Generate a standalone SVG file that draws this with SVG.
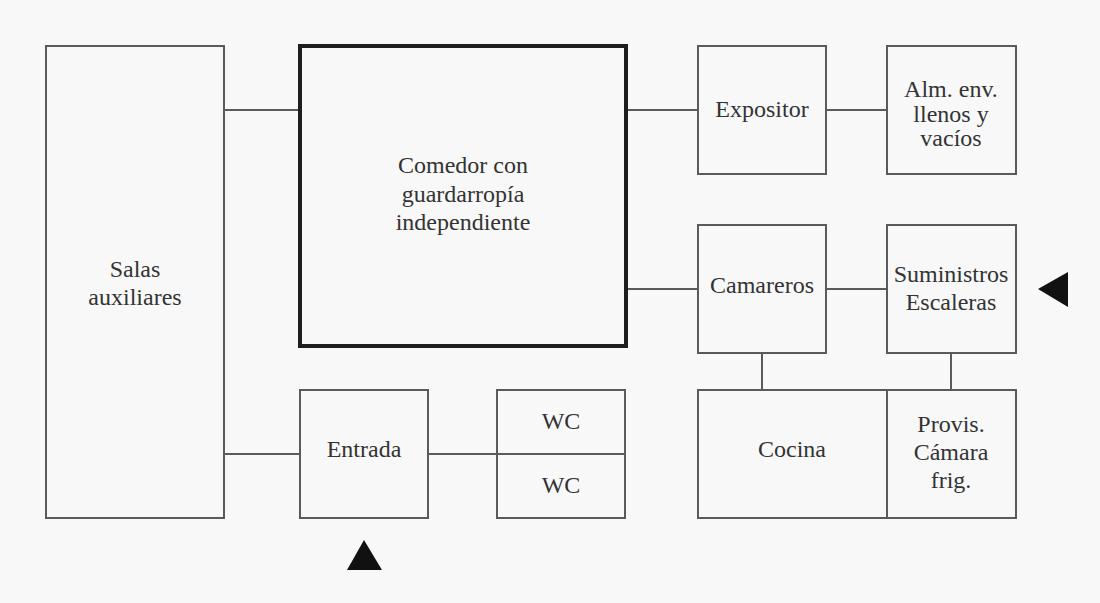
<svg xmlns="http://www.w3.org/2000/svg" width="1100" height="603" viewBox="0 0 1100 603">
<style>
.box{fill:none;stroke:#5a5a5a;stroke-width:2}
.thick{fill:none;stroke:#1e1e1e;stroke-width:4}
.ln{stroke:#5a5a5a;stroke-width:2;fill:none}
text{font-family:"Liberation Serif","Times New Roman",serif;font-size:24px;fill:#333;text-anchor:middle}
.tri{fill:#111}
</style>
<rect width="1100" height="603" fill="#f8f8f9"/>
<g id="connectors">
<line class="ln" x1="224" y1="110" x2="300" y2="110"/>
<line class="ln" x1="224" y1="454" x2="300" y2="454"/>
<line class="ln" x1="626" y1="110" x2="698" y2="110"/>
<line class="ln" x1="826" y1="110" x2="887" y2="110"/>
<line class="ln" x1="626" y1="289" x2="698" y2="289"/>
<line class="ln" x1="826" y1="289" x2="887" y2="289"/>
<line class="ln" x1="762" y1="353" x2="762" y2="390"/>
<line class="ln" x1="951" y1="353" x2="951" y2="390"/>
<line class="ln" x1="428" y1="454" x2="497" y2="454"/>
</g>
<g id="salas">
<rect class="box" x="46" y="46" width="178" height="472"/>
<text x="135" y="277">Salas</text>
<text x="135" y="305">auxiliares</text>
</g>
<g id="comedor">
<rect class="thick" x="300" y="46" width="326" height="300"/>
<text x="463" y="173">Comedor con</text>
<text x="463" y="202">guardarropía</text>
<text x="463" y="230">independiente</text>
</g>
<g id="expositor">
<rect class="box" x="698" y="46" width="128" height="128"/>
<text x="762" y="117">Expositor</text>
</g>
<g id="almacen">
<rect class="box" x="887" y="46" width="129" height="128"/>
<text x="951" y="97">Alm. env.</text>
<text x="951" y="122">llenos y</text>
<text x="951" y="146">vacíos</text>
</g>
<g id="camareros">
<rect class="box" x="698" y="225" width="128" height="128"/>
<text x="762" y="293">Camareros</text>
</g>
<g id="suministros">
<rect class="box" x="887" y="225" width="129" height="128"/>
<text x="951" y="282">Suministros</text>
<text x="951" y="310">Escaleras</text>
</g>
<g id="cocina">
<rect class="box" x="698" y="390" width="189" height="128"/>
<text x="792" y="457">Cocina</text>
</g>
<g id="provis">
<rect class="box" x="887" y="390" width="129" height="128"/>
<text x="951" y="432">Provis.</text>
<text x="951" y="460">Cámara</text>
<text x="951" y="488">frig.</text>
</g>
<g id="entrada">
<rect class="box" x="300" y="390" width="128" height="128"/>
<text x="364" y="457">Entrada</text>
</g>
<g id="wc1">
<rect class="box" x="497" y="390" width="128" height="64"/>
<text x="561" y="429">WC</text>
</g>
<g id="wc2">
<rect class="box" x="497" y="454" width="128" height="64"/>
<text x="561" y="493">WC</text>
</g>
<g id="arrow-right">
<polygon class="tri" points="1038,289 1068,272 1068,307"/>
</g>
<g id="arrow-bottom">
<polygon class="tri" points="364,540 347,570 382,570"/>
</g>
</svg>
